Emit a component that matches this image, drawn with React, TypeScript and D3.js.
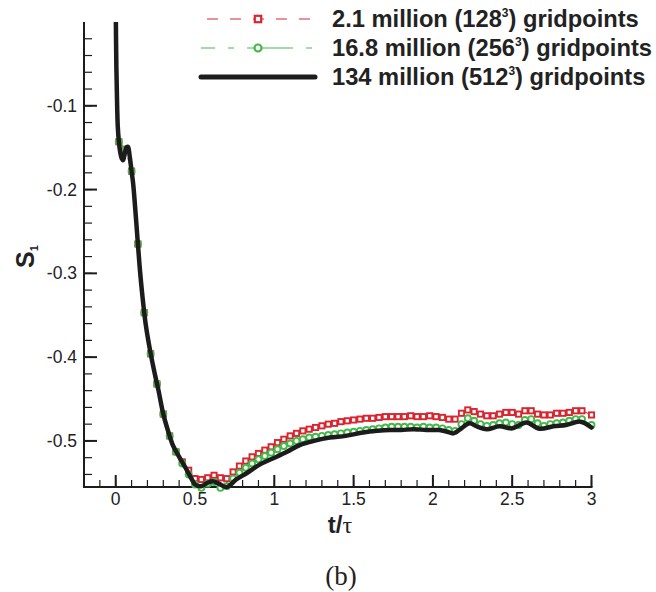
import React from "react";
import * as d3 from "d3";

// ---- data ----
const tBlack = [0, 0.004, 0.009, 0.013, 0.02, 0.028, 0.038, 0.046, 0.055, 0.066, 0.077, 0.088, 0.1, 0.11, 0.13, 0.15, 0.17, 0.19, 0.21, 0.23, 0.25, 0.27, 0.3, 0.33, 0.36, 0.4, 0.44, 0.48, 0.5, 0.54, 0.58, 0.61, 0.65, 0.7, 0.76, 0.83, 0.91, 0.99, 1.08, 1.16, 1.25, 1.35, 1.45, 1.56, 1.65, 1.73, 1.8, 1.88, 1.96, 2.04, 2.09, 2.13, 2.18, 2.23, 2.28, 2.34, 2.42, 2.5, 2.59, 2.67, 2.76, 2.84, 2.93, 3.0];
const s1Black = [0.02, -0.053, -0.1, -0.125, -0.143, -0.155, -0.163, -0.165, -0.159, -0.15, -0.149, -0.16, -0.178, -0.193, -0.24, -0.29, -0.33, -0.362, -0.385, -0.405, -0.423, -0.44, -0.468, -0.488, -0.505, -0.519, -0.532, -0.546, -0.552, -0.554, -0.55, -0.548, -0.551, -0.555, -0.546, -0.538, -0.528, -0.521, -0.513, -0.505, -0.5, -0.496, -0.494, -0.49, -0.488, -0.487, -0.487, -0.486, -0.487, -0.487, -0.489, -0.491, -0.485, -0.479, -0.483, -0.486, -0.4825, -0.485, -0.478, -0.4855, -0.4825, -0.481, -0.477, -0.484];

const tMarkers = [0.02, 0.06, 0.1, 0.14, 0.18, 0.22, 0.26, 0.3, 0.34, 0.38, 0.42, 0.46, 0.5, 0.54, 0.58, 0.62, 0.66, 0.7, 0.74, 0.78, 0.82, 0.86, 0.9, 0.94, 0.98, 1.02, 1.06, 1.1, 1.14, 1.18, 1.22, 1.26, 1.3, 1.34, 1.38, 1.42, 1.46, 1.5, 1.54, 1.58, 1.62, 1.66, 1.7, 1.74, 1.78, 1.82, 1.86, 1.9, 1.94, 1.98, 2.02, 2.06, 2.1, 2.14, 2.18, 2.22, 2.26, 2.3, 2.34, 2.38, 2.42, 2.46, 2.5, 2.54, 2.58, 2.62, 2.66, 2.7, 2.74, 2.78, 2.82, 2.86, 2.9, 2.94, 3.0];
const s1Red = [-0.143, -0.152, -0.178, -0.265, -0.347, -0.396, -0.432, -0.468, -0.494, -0.513, -0.525, -0.535, -0.545, -0.546, -0.544, -0.541, -0.544, -0.545, -0.537, -0.53, -0.524, -0.519, -0.515, -0.511, -0.507, -0.502, -0.498, -0.494, -0.491, -0.488, -0.486, -0.484, -0.482, -0.48, -0.479, -0.477, -0.476, -0.475, -0.474, -0.473, -0.473, -0.472, -0.471, -0.471, -0.471, -0.471, -0.47, -0.471, -0.471, -0.47, -0.471, -0.472, -0.474, -0.474, -0.467, -0.463, -0.465, -0.468, -0.47, -0.47, -0.468, -0.466, -0.466, -0.468, -0.464, -0.464, -0.468, -0.469, -0.469, -0.467, -0.467, -0.466, -0.464, -0.464, -0.469];
const s1Green = [-0.143, -0.152, -0.178, -0.265, -0.347, -0.396, -0.432, -0.468, -0.494, -0.513, -0.527, -0.54, -0.552, -0.556, -0.551, -0.549, -0.556, -0.554, -0.545, -0.538, -0.532, -0.527, -0.522, -0.518, -0.514, -0.51, -0.506, -0.503, -0.5, -0.498, -0.496, -0.495, -0.494, -0.493, -0.492, -0.491, -0.49, -0.489, -0.488, -0.487, -0.486, -0.485, -0.484, -0.483, -0.483, -0.483, -0.483, -0.484, -0.483, -0.484, -0.484, -0.485, -0.487, -0.488, -0.48, -0.473, -0.476, -0.48, -0.482, -0.481, -0.479, -0.478, -0.48, -0.481, -0.475, -0.474, -0.479, -0.482, -0.48, -0.479, -0.478, -0.476, -0.474, -0.474, -0.481];

const xTickValues = [0, 0.5, 1, 1.5, 2, 2.5, 3];
const xTickLabels = ["0", "0.5", "1", "1.5", "2", "2.5", "3"];
const yTickValues = [-0.1, -0.2, -0.3, -0.4, -0.5];
const yTickLabels = ["-0.1", "-0.2", "-0.3", "-0.4", "-0.5"];
const legendMain = ["2.1 million (128", "16.8 million (256", "134 million (512"];

const RED = "#d92530";
const GREEN = "#44b94a";
const BLACK = "#1c1c1c";
const SANS = "'Liberation Sans', Arial, sans-serif";
const SERIF = "'Liberation Serif', 'Times New Roman', serif";

export default function App() {
  const W = 656, H = 592;
  const x = d3.scaleLinear().domain([-0.2, 3]).range([84, 591.5]);
  const y = d3.scaleLinear().domain([-0.555, 0]).range([487, 22]);

  const blackPts: [number, number][] = tBlack.map((t, i) => [t, s1Black[i]]);
  const redPts: [number, number][] = tMarkers.map((t, i) => [t, s1Red[i]]);
  const greenPts: [number, number][] = tMarkers.map((t, i) => [t, s1Green[i]]);

  const smooth = d3.line<[number, number]>().x(d => x(d[0])).y(d => y(d[1])).curve(d3.curveCatmullRom.alpha(0.5));
  const lin = d3.line<[number, number]>().x(d => x(d[0])).y(d => y(d[1]));

  const xMinor = d3.range(-1, 31).map(k => k / 10);
  const yMinor = d3.range(1, 28).map(k => -k / 50);

  const x0 = x(-0.2), yBase = y(-0.555), yTop = y(0), xEnd = x(3);

  const legendRows = [19, 48, 77];
  const lx0 = 201, lx1 = 315, lmx = 258;

  return (
    <svg width={W} height={H} style={{ position: "absolute", left: 0, top: 0, background: "#fff" }}>
      <defs>
        <clipPath id="plotclip">
          <rect x={x0} y={yTop} width={W - x0} height={H - yTop} />
        </clipPath>
      </defs>

      {/* axes */}
      <g stroke={BLACK} fill="none">
        <line x1={x0} y1={yTop} x2={x0} y2={yBase + 1} strokeWidth={2} />
        <line x1={x0 - 1} y1={yBase} x2={xEnd + 1} y2={yBase} strokeWidth={2} />
        {xMinor.map((v, i) => (
          <line key={"xm" + i} x1={x(v)} x2={x(v)} y1={yBase} y2={yBase - 7} strokeWidth={1.2} />
        ))}
        {xTickValues.map((v, i) => (
          <line key={"xM" + i} x1={x(v)} x2={x(v)} y1={yBase} y2={yBase - 12} strokeWidth={2} />
        ))}
        {yMinor.map((v, i) => (
          <line key={"ym" + i} x1={x0} x2={x0 + 8} y1={y(v)} y2={y(v)} strokeWidth={1.2} />
        ))}
        {yTickValues.map((v, i) => (
          <line key={"yM" + i} x1={x0} x2={x0 + 13} y1={y(v)} y2={y(v)} strokeWidth={2} />
        ))}
      </g>

      {/* tick labels */}
      <g fontFamily={SANS} fontSize={17.5} fill="#222">
        {xTickValues.map((v, i) => (
          <text key={"xl" + i} x={x(v)} y={505} textAnchor="middle">{xTickLabels[i]}</text>
        ))}
        {yTickValues.map((v, i) => (
          <text key={"yl" + i} x={77} y={y(v) + 6} textAnchor="end">{yTickLabels[i]}</text>
        ))}
      </g>

      {/* data */}
      <g clipPath="url(#plotclip)">
        <path d={lin(redPts) || ""} fill="none" stroke={RED} strokeWidth={1} strokeDasharray="11 12" />
        {redPts.map((d, i) => (
          <rect key={"r" + i} x={x(d[0]) - 2.6} y={y(d[1]) - 2.6} width={5.2} height={5.2} fill="#fff" stroke={RED} strokeWidth={1.9} />
        ))}
        <path d={lin(greenPts) || ""} fill="none" stroke={GREEN} strokeWidth={1} strokeDasharray="6 13 46 13" />
        {greenPts.map((d, i) => (
          <circle key={"g" + i} cx={x(d[0])} cy={y(d[1])} r={3} fill="#fff" stroke={GREEN} strokeWidth={1.9} />
        ))}
        <path d={smooth(blackPts) || ""} fill="none" stroke={BLACK} strokeWidth={4.5} strokeLinejoin="round" strokeLinecap="round" />
      </g>

      {/* legend */}
      <g>
        <line x1={lx0} x2={lx1} y1={legendRows[0]} y2={legendRows[0]} stroke={RED} strokeWidth={1.2} strokeDasharray="11 12" strokeDashoffset={-6} />
        <rect x={lmx - 3.2} y={legendRows[0] - 3.2} width={6.4} height={6.4} fill="#fff" stroke={RED} strokeWidth={2.2} />
        <line x1={lx0} x2={lx1} y1={legendRows[1]} y2={legendRows[1]} stroke={GREEN} strokeWidth={1.2} strokeDasharray="6 13 46 13" strokeDashoffset={-27} />
        <circle cx={lmx} cy={legendRows[1]} r={3.5} fill="#fff" stroke={GREEN} strokeWidth={2.2} />
        <line x1={lx0} x2={lx1} y1={legendRows[2]} y2={legendRows[2]} stroke={BLACK} strokeWidth={5} strokeLinecap="round" />
        <g fontFamily={SANS} fontWeight="bold" fontSize={23.7} fill="#222">
          {legendMain.map((s, i) => (
            <text key={"lg" + i} x={332} y={legendRows[i] + 8}>
              {s}
              <tspan fontSize={12} dy={-10}>3</tspan>
              <tspan dy={10}>) gridpoints</tspan>
            </text>
          ))}
        </g>
      </g>

      {/* axis titles */}
      <text x={340} y={533} textAnchor="middle" fontSize={24} fill="#222">
        <tspan fontFamily={SANS} fontWeight="bold">t/</tspan>
        <tspan fontFamily={SERIF}>τ</tspan>
      </text>
      <text transform="translate(34,268) rotate(-90)" fontFamily={SANS} fontWeight="bold" fontSize={25} fill="#222">
        S<tspan fontSize={11} dy={4}>1</tspan>
      </text>
      <text x={341} y={585} textAnchor="middle" fontFamily={SERIF} fontSize={27} fill="#222">(b)</text>
    </svg>
  );
}
